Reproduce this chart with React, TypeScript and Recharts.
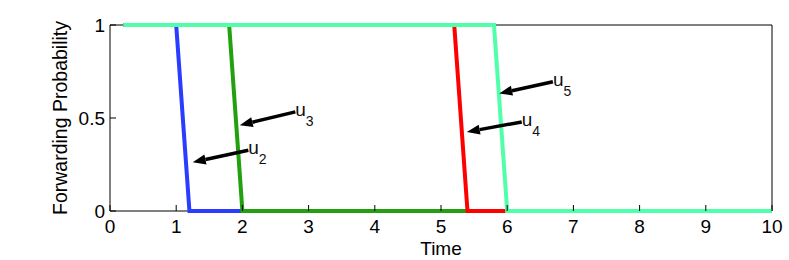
import React from 'react';
import { LineChart, Line, XAxis, YAxis, ReferenceLine, Label, CartesianGrid } from 'recharts';

// Series: time points and forwarding probabilities
const u2Time = [0.2, 1.0, 1.2, 10];
const u2Prob = [1, 1, 0, 0];
const u3Time = [0.2, 1.8, 2.0, 10];
const u3Prob = [1, 1, 0, 0];
const u4Time = [0.2, 5.2, 5.4, 10];
const u4Prob = [1, 1, 0, 0];
const u5Time = [0.2, 5.8, 6.0, 10];
const u5Prob = [1, 1, 0, 0];

const xTicks = [0, 1, 2, 3, 4, 5, 6, 7, 8, 9, 10];
const yTicks = [0, 0.5, 1];

// Annotations: label subscript, tail (text end) and head (arrow tip) in data units
const annLabels = ['2', '3', '4', '5'];
const annTailX = [2.09, 2.8, 6.22, 6.69];
const annTailY = [0.327, 0.533, 0.479, 0.695];
const annHeadX = [1.25, 1.96, 5.39, 5.88];
const annHeadY = [0.262, 0.461, 0.425, 0.632];

const colors = ['#2a3cff', '#22a010', '#ff0000', '#50ffaa'];

const toData = (t: number[], p: number[]) => t.map((x, i) => ({ t: x, p: p[i] }));
const series = [
  toData(u2Time, u2Prob),
  toData(u3Time, u3Prob),
  toData(u4Time, u4Prob),
  toData(u5Time, u5Prob),
];

const FONT = '"Liberation Sans", Arial, Helvetica, sans-serif';
const TICK_LEN = 6;
const M = 10; // tick margin used to recover axis position

const BottomTick = (props: any) => {
  const { x, y, payload } = props;
  const axisY = y - M;
  return (
    <g>
      <line x1={x} y1={axisY} x2={x} y2={axisY - TICK_LEN} stroke="#000" strokeWidth={1} />
      <text x={x} y={axisY + 22} textAnchor="middle" fontFamily={FONT} fontSize={19} fill="#000">
        {payload.value}
      </text>
    </g>
  );
};

const TopTick = (props: any) => {
  const { x, y } = props;
  const axisY = y + M;
  return <line x1={x} y1={axisY} x2={x} y2={axisY + TICK_LEN} stroke="#000" strokeWidth={1} />;
};

const LeftTick = (props: any) => {
  const { x, y, payload } = props;
  const axisX = x + M;
  return (
    <g>
      <line x1={axisX} y1={y} x2={axisX + TICK_LEN} y2={y} stroke="#000" strokeWidth={1} />
      <text x={axisX - 5} y={y + 7} textAnchor="end" fontFamily={FONT} fontSize={19} fill="#000">
        {payload.value}
      </text>
    </g>
  );
};

const RightTick = (props: any) => {
  const { x, y } = props;
  const axisX = x - M;
  return <line x1={axisX} y1={y} x2={axisX - TICK_LEN} y2={y} stroke="#000" strokeWidth={1} />;
};

const makeArrowShape = (sub: string) => (props: any) => {
  const { x1, y1, x2, y2 } = props;
  if (x1 == null || x2 == null) return <g />;
  const dx = x2 - x1;
  const dy = y2 - y1;
  const len = Math.sqrt(dx * dx + dy * dy);
  const ux = dx / len;
  const uy = dy / len;
  const headLen = 13;
  const headW = 5;
  const bx = x2 - ux * headLen;
  const by = y2 - uy * headLen;
  const px = -uy;
  const py = ux;
  const pts = `${x2},${y2} ${bx + px * headW},${by + py * headW} ${bx - px * headW},${by - py * headW}`;
  return (
    <g>
      <line x1={x1} y1={y1} x2={bx} y2={by} stroke="#000" strokeWidth={3.5} />
      <polygon points={pts} fill="#000" />
      <text x={x1} y={y1 + 4} fontFamily={FONT} fontSize={19} fill="#111">
        u
      </text>
      <text x={x1 + 10.5} y={y1 + 14} fontFamily={FONT} fontSize={14} fill="#111">
        {sub}
      </text>
    </g>
  );
};

export default function App() {
  return (
    <div style={{ position: 'absolute', left: 0, top: 0, width: 789, height: 260, background: '#fff' }}>
      <LineChart width={789} height={260} margin={{ top: 24, right: 16, left: 0, bottom: 0 }}>
        <CartesianGrid
          stroke="#000"
          strokeWidth={1}
          xAxisId="b"
          yAxisId="l"
          horizontalCoordinatesGenerator={({ offset }: any) => [offset.top, offset.top + offset.height]}
          verticalCoordinatesGenerator={({ offset }: any) => [offset.left, offset.left + offset.width]}
        />
        <XAxis
          xAxisId="b"
          dataKey="t"
          type="number"
          domain={[0, 10]}
          ticks={xTicks}
          orientation="bottom"
          height={49}
          axisLine={false}
          tickLine={false}
          tickSize={0}
          tickMargin={M}
          tick={<BottomTick />}
        >
          <Label
            content={({ viewBox }: any) => (
              <text
                x={viewBox.x + viewBox.width / 2}
                y={255}
                textAnchor="middle"
                fontFamily={FONT}
                fontSize={19}
                fill="#000"
              >
                Time
              </text>
            )}
          />
        </XAxis>
        <XAxis
          xAxisId="t"
          dataKey="t"
          type="number"
          domain={[0, 10]}
          ticks={xTicks}
          orientation="top"
          height={1}
          axisLine={false}
          tickLine={false}
          tickSize={0}
          tickMargin={M}
          tick={<TopTick />}
        />
        <YAxis
          yAxisId="l"
          type="number"
          domain={[0, 1]}
          ticks={yTicks}
          orientation="left"
          width={110}
          axisLine={false}
          tickLine={false}
          tickSize={0}
          tickMargin={M}
          tick={<LeftTick />}
        >
          <Label
            content={({ viewBox }: any) => {
              const cx = 67;
              const cy = viewBox.y + viewBox.height / 2;
              return (
                <text
                  x={cx}
                  y={cy}
                  transform={`rotate(-90 ${cx} ${cy})`}
                  textAnchor="middle"
                  fontFamily={FONT}
                  fontSize={19.5}
                  fill="#000"
                >
                  Forwarding Probability
                </text>
              );
            }}
          />
        </YAxis>
        <YAxis
          yAxisId="r"
          type="number"
          domain={[0, 1]}
          ticks={yTicks}
          orientation="right"
          width={1}
          axisLine={false}
          tickLine={false}
          tickSize={0}
          tickMargin={M}
          tick={<RightTick />}
        />
        {series.map((d, i) => (
          <Line
            key={i}
            data={d}
            xAxisId="b"
            yAxisId="l"
            dataKey="p"
            type="linear"
            stroke={colors[i]}
            strokeWidth={4}
            dot={false}
            activeDot={false}
            isAnimationActive={false}
          />
        ))}
        {annLabels.map((s, i) => (
          <ReferenceLine
            key={'a' + i}
            xAxisId="b"
            yAxisId="l"
            segment={[
              { x: annTailX[i], y: annTailY[i] },
              { x: annHeadX[i], y: annHeadY[i] },
            ]}
            ifOverflow="visible"
            shape={makeArrowShape(s)}
          />
        ))}
      </LineChart>
    </div>
  );
}
